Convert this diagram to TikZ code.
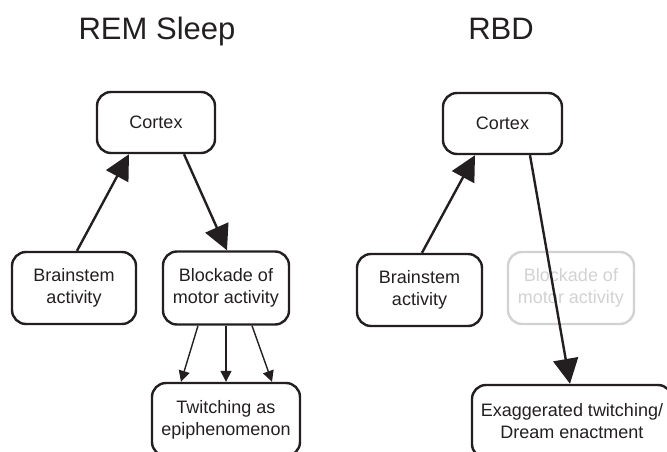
\documentclass[tikz,border=0pt]{standalone}
\usepackage{fontspec}
\setmainfont{Liberation Sans}
\usetikzlibrary{arrows.meta}
\definecolor{ink}{HTML}{231F20}
\definecolor{faded}{HTML}{D2D2D2}
\tikzset{
  box/.style={draw=ink, text=ink, line width=2.4pt, rounded corners=14pt, align=center,
    font=\fontsize{18}{22}\selectfont, inner sep=0pt},
  fadedbox/.style={box, draw=faded, text=faded},
  title/.style={text=ink, font=\fontsize{31}{36}\selectfont, anchor=base, inner sep=0pt},
  bigarrow/.style={draw=ink, line width=2.4pt, -{Triangle[length=25pt,width=25pt]}},
  smallarrow/.style={draw=ink, line width=1.4pt, -{Triangle[length=11pt,width=11pt]}}
}
\begin{document}
\begin{tikzpicture}[x=1pt,y=-1pt]
\useasboundingbox (0,0) rectangle (667,452);
\clip (0,0) rectangle (667,452);
\node[title] (t1) at (157,40) {REM Sleep};
\node[title] (t2) at (501,40) {RBD};
% left panel
\node[box, minimum width=118pt, minimum height=61pt] (cxL) at (156,122.5) {Cortex};
\node[box, minimum width=124pt, minimum height=72pt] (bsL) at (74,288) {Brainstem\\activity};
\node[box, minimum width=126pt, minimum height=73pt] (blL) at (226,288) {Blockade of\\motor activity};
\node[box, minimum width=148pt, minimum height=73pt] (twL) at (226,419.5) {Twitching as\\epiphenomenon};
\draw[bigarrow] ([xshift=3pt]bsL.north) -- ([xshift=-27pt]cxL.south);
\draw[bigarrow] ([xshift=28pt]cxL.south) -- ([xshift=1pt]blL.north);
\draw[smallarrow] ([xshift=-28pt]blL.south) -- ([xshift=-45pt]twL.north);
\draw[smallarrow] (blL.south) -- (twL.north);
\draw[smallarrow] ([xshift=26pt]blL.south) -- ([xshift=46pt]twL.north);
% right panel
\node[box, minimum width=119pt, minimum height=61pt] (cxR) at (502.5,123.5) {Cortex};
\node[box, minimum width=125pt, minimum height=72pt] (bsR) at (419.5,290) {Brainstem\\activity};
\node[fadedbox, minimum width=126pt, minimum height=72pt] (blR) at (571,288) {Blockade of\\motor activity};
\node[box, minimum width=200pt, minimum height=73pt] (exR) at (572,421.5) {Exaggerated twitching/\\Dream enactment};
\draw[bigarrow] ([xshift=2.5pt]bsR.north) -- ([xshift=-27.5pt]cxR.south);
\draw[bigarrow] ([xshift=27.5pt]cxR.south) -- ([xshift=-2pt]exR.north);
\end{tikzpicture}
\end{document}
